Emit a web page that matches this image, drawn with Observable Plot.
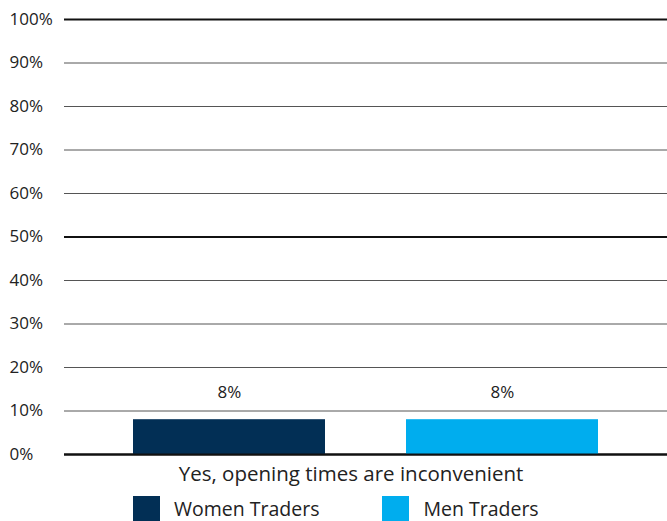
<!DOCTYPE html>
<html>
<head>
<meta charset="utf-8">
<script src="https://cdn.jsdelivr.net/npm/d3@7"></script>
<script src="https://cdn.jsdelivr.net/npm/@observablehq/plot@0.6"></script>
<style>
  html, body { margin: 0; padding: 0; background: #fff; }
  body { width: 667px; font-family: "Open Sans", Roboto, sans-serif; color: #222; }
  #legend { display: flex; align-items: center; height: 25px; padding-left: 133px; font-size: 19.5px; line-height: 25px; margin-top: 6px; }
  .item { display: flex; align-items: center; margin-right: 63px; }
  .swatch { width: 27px; height: 25px; margin-right: 14px; }
</style>
</head>
<body>
<div id="chart"></div>
<div id="legend"></div>
<script>
const categories = ["Yes, opening times are inconvenient"];
const series = ["Women Traders", "Men Traders"];
const values = [8, 8];
const colors = ["#022f55", "#00adee"];
const yTicks = [0, 10, 20, 30, 40, 50, 60, 70, 80, 90, 100];
const majorTicks = [0, 50, 100];

const data = series.map((s, i) => ({category: categories[0], series: s, value: values[i]}));

const chart = Plot.plot({
  width: 667,
  height: 490,
  marginLeft: 64,
  marginRight: 0,
  marginTop: 19,
  marginBottom: 36,
  style: {fontFamily: "'Open Sans', Roboto, sans-serif", fontSize: "17px", color: "#222", background: "#fff"},
  fx: {domain: categories, padding: 0, label: null},
  x: {domain: series, paddingInner: 0.297, paddingOuter: 0.252, axis: null},
  y: {domain: [0, 100], axis: null, label: null},
  color: {domain: series, range: colors},
  marks: [
    Plot.ruleY(yTicks.filter(d => !majorTicks.includes(d)), {y: d => d, stroke: "#555", strokeWidth: 1}),
    Plot.ruleY(majorTicks, {y: d => d, stroke: "#111", strokeWidth: 2}),
    Plot.barY(data, {fx: "category", x: "series", y: "value", fill: "series"}),
    Plot.ruleY([0], {stroke: "#111", strokeWidth: 2}),
    Plot.text(data, {fx: "category", x: "series", y: "value", text: d => d.value + "%", dy: -27, fontSize: 17, fill: "#222"}),
    Plot.axisY(yTicks, {tickFormat: d => d + "%", tickSize: 0, tickPadding: 0, textAnchor: "start", dx: -55, fontSize: 17, label: null}),
    Plot.axisFx({anchor: "bottom", tickSize: 0, tickPadding: 12, dx: -15, label: null, fontSize: 20.5})
  ]
});
document.getElementById("chart").appendChild(chart);

const legend = document.getElementById("legend");
series.forEach((s, i) => {
  const item = document.createElement("div");
  item.className = "item";
  const sw = document.createElement("div");
  sw.className = "swatch";
  sw.style.background = colors[i];
  const label = document.createElement("span");
  label.textContent = s;
  item.appendChild(sw);
  item.appendChild(label);
  legend.appendChild(item);
});
</script>
</body>
</html>
